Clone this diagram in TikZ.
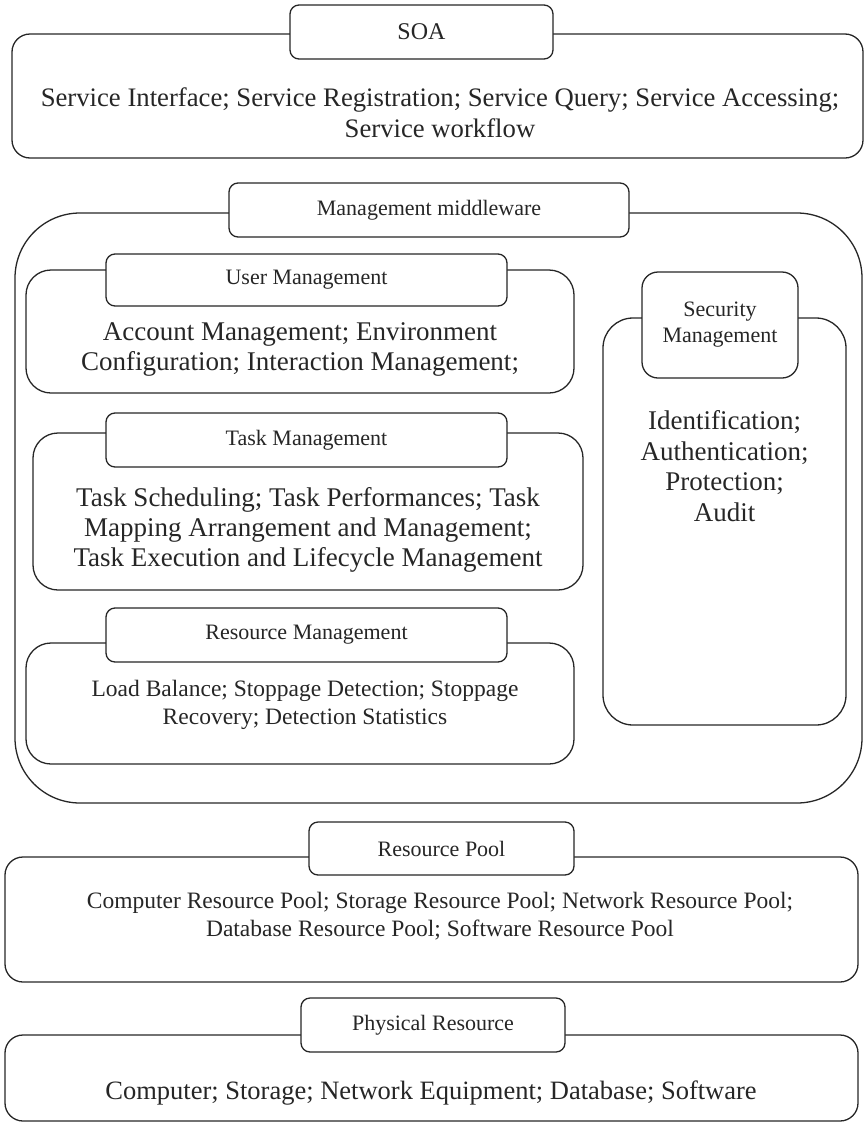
\documentclass[tikz,border=0pt]{standalone}
\usepackage{fontspec}
\setmainfont{Liberation Serif}
\usetikzlibrary{positioning}
\tikzstyle{layer}=[
	rectangle,
	rounded corners=18pt,
	draw=black!85,
	line width=1.3pt,
	inner sep=0pt
]
\tikzstyle{tab}=[
	rectangle,
	rounded corners=9pt,
	draw=black!85,
	fill=white,
	line width=1.3pt,
	inner sep=0pt,
	text=black!85,
	align=center,
	font=\fontsize{22}{26}\selectfont
]
\tikzstyle{content}=[
	align=center,
	text=black!85,
	font=\fontsize{27}{30.5}\selectfont
]
\tikzstyle{smallcontent}=[
	content,
	font=\fontsize{23.5}{28}\selectfont
]

\begin{document}
\begin{tikzpicture}[x=1pt,y=-1pt]
\useasboundingbox (0,0) rectangle (865,1122);
% SOA
\node [layer, minimum width=851, minimum height=124] (soa) at (437.5,96) {};
\node [tab, minimum width=263, minimum height=54, font=\fontsize{24}{26}\selectfont] (soaTab) at (421.5,32) {SOA};
\node [content, font=\fontsize{26.7}{31}\selectfont] (soaText) at (440,112.5) {Service Interface; Service Registration; Service Query; Service Accessing;\\Service workflow};
% management middleware
\node [layer, rounded corners=65pt, minimum width=847, minimum height=590] (middleware) at (438.5,508) {};
\node [tab, minimum width=400, minimum height=54] (middlewareTab) at (429,210) {Management middleware};
\node [layer, rounded corners=25pt, minimum width=548, minimum height=123] (user) at (300,331.5) {};
\node [tab, minimum width=401, minimum height=52] (userTab) at (306.5,280) {User Management};
\node [content] (userText) at (300,349.5) {Account Management; Environment\\Configuration; Interaction Management;};
\node [layer, rounded corners=25pt, minimum width=550, minimum height=157] (task) at (308,511.5) {};
\node [tab, minimum width=401, minimum height=54] (taskTab) at (306.5,440) {Task Management};
\node [content, font=\fontsize{27}{30}\selectfont] (taskText) at (308,530) {Task Scheduling; Task Performances; Task\\Mapping Arrangement and Management;\\Task Execution and Lifecycle Management};
\node [layer, rounded corners=25pt, minimum width=548, minimum height=121] (resource) at (300,703.5) {};
\node [tab, minimum width=401, minimum height=54] (resourceTab) at (306.5,635) {Resource Management};
\node [smallcontent] (resourceText) at (305,705) {Load Balance; Stoppage Detection; Stoppage\\Recovery; Detection Statistics};
\node [layer, rounded corners=30pt, minimum width=243, minimum height=407] (security) at (724.5,521.5) {};
\node [tab, rounded corners=16pt, minimum width=156, minimum height=106] (securityTab) at (720,325) {Security\\Management};
\node [content, font=\fontsize{27}{30.7}\selectfont] (securityText) at (724.5,466) {Identification;\\Authentication;\\Protection;\\Audit};
% resource pool
\node [layer, minimum width=853, minimum height=125] (pool) at (431.5,919.5) {};
\node [tab, minimum width=265, minimum height=53] (poolTab) at (441.5,848.5) {Resource Pool};
\node [smallcontent] (poolText) at (440,916) {Computer Resource Pool; Storage Resource Pool; Network Resource Pool;\\Database Resource Pool; Software Resource Pool};
% physical resource
\node [layer, minimum width=853, minimum height=86] (physical) at (431.5,1078) {};
\node [tab, minimum width=264, minimum height=54] (physicalTab) at (433,1025) {Physical Resource};
\node [content, font=\fontsize{26.5}{30}\selectfont] (physicalText) at (431,1093) {Computer; Storage; Network Equipment; Database; Software};
\end{tikzpicture}
\end{document}
